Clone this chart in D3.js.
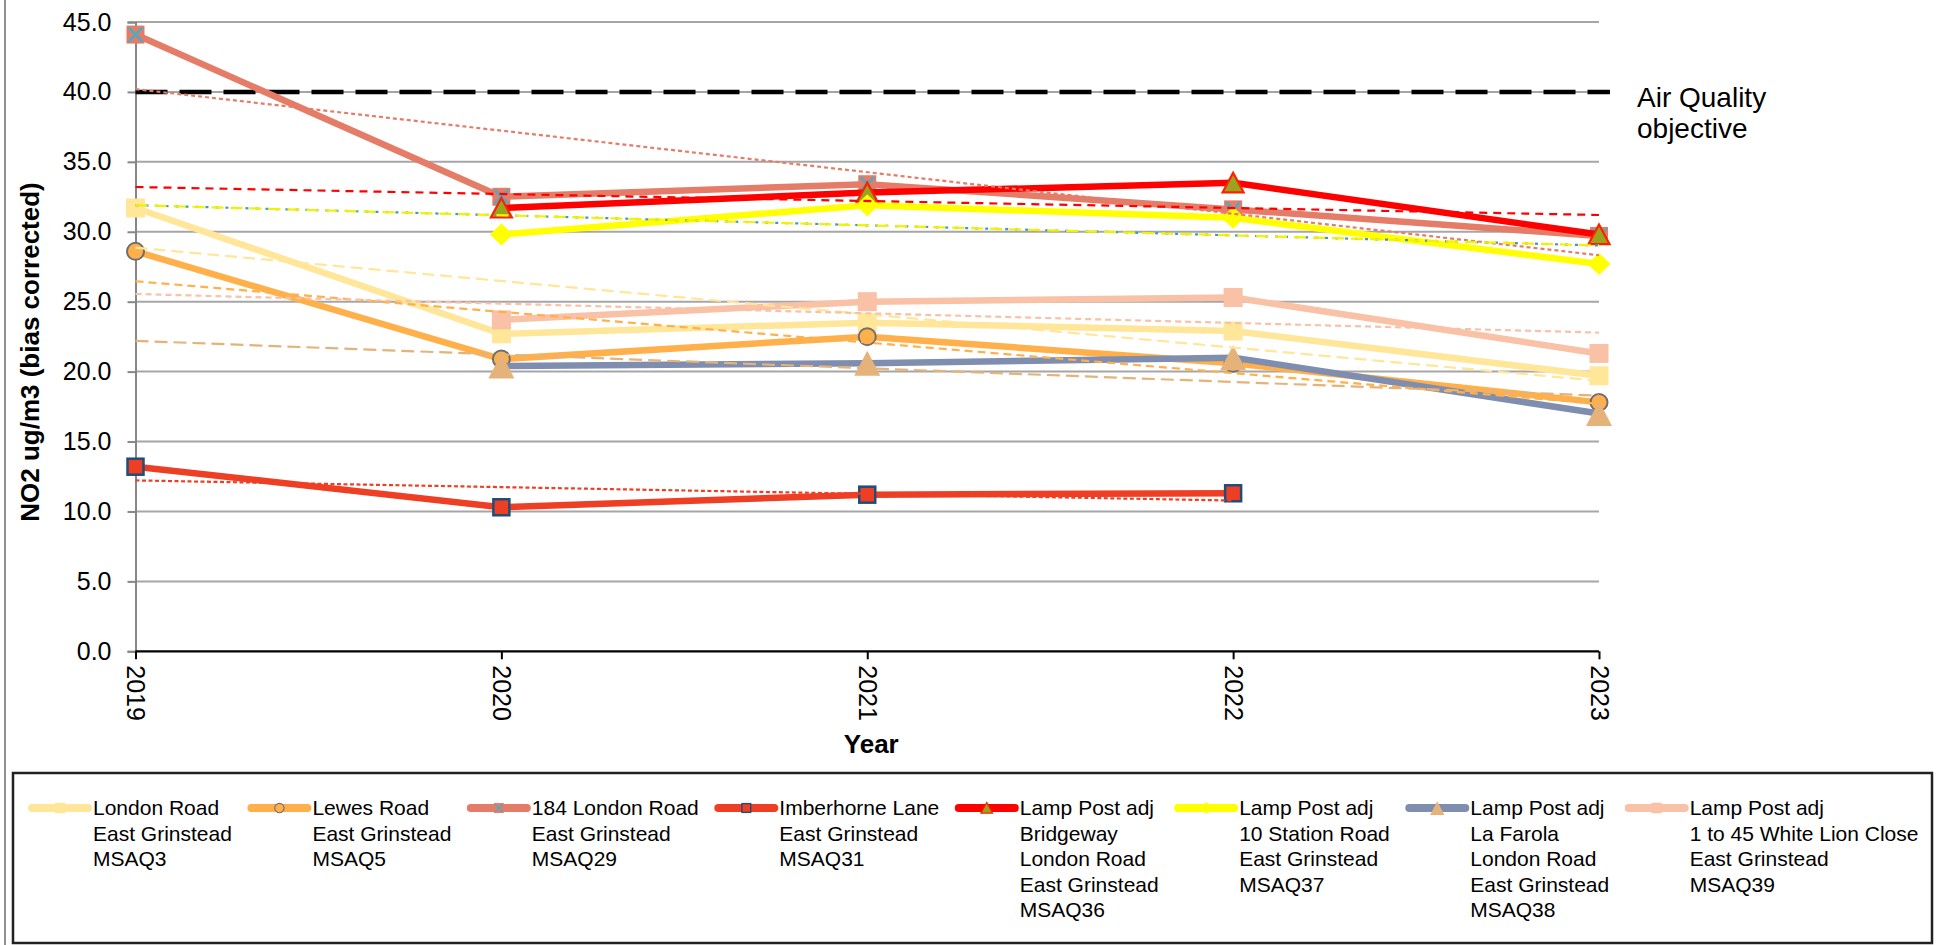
<!DOCTYPE html>
<html>
<head>
<meta charset="utf-8">
<script src="https://cdn.jsdelivr.net/npm/d3@7"></script>
<style>
  html, body { margin: 0; padding: 0; background: #fff; }
  svg { display: block; font-family: "Liberation Sans", Arial, sans-serif; }
</style>
</head>
<body>
<svg id="chart" width="1944" height="945"></svg>
<script>
// ---------------- DATA ----------------
const years = ["2019", "2020", "2021", "2022", "2023"];
const yTicks = [0, 5, 10, 15, 20, 25, 30, 35, 40, 45];
const objectiveValue = 40;
const objectiveLabel = ["Air Quality", "objective"];
const yTitle = "NO2 ug/m3 (bias corrected)";
const xTitle = "Year";

const labelMSAQ3  = ["London Road", "East Grinstead", "MSAQ3"];
const labelMSAQ5  = ["Lewes Road", "East Grinstead", "MSAQ5"];
const labelMSAQ29 = ["184 London Road", "East Grinstead", "MSAQ29"];
const labelMSAQ31 = ["Imberhorne Lane", "East Grinstead", "MSAQ31"];
const labelMSAQ36 = ["Lamp Post adj", "Bridgeway", "London Road", "East Grinstead", "MSAQ36"];
const labelMSAQ37 = ["Lamp Post adj", "10 Station Road", "East Grinstead", "MSAQ37"];
const labelMSAQ38 = ["Lamp Post adj", "La Farola", "London Road", "East Grinstead", "MSAQ38"];
const labelMSAQ39 = ["Lamp Post adj", "1 to 45 White Lion Close", "East Grinstead", "MSAQ39"];

const valuesMSAQ3  = [31.7, 22.7, 23.5, 22.9, 19.7];
const valuesMSAQ5  = [28.6, 20.9, 22.5, 20.6, 17.8];
const valuesMSAQ29 = [44.1, 32.5, 33.4, 31.6, 29.7];
const valuesMSAQ31 = [13.2, 10.3, 11.2, 11.3, null];
const valuesMSAQ36 = [null, 31.7, 32.8, 33.5, 29.8];
const valuesMSAQ37 = [null, 29.8, 31.9, 31.0, 27.7];
const valuesMSAQ38 = [null, 20.4, 20.6, 21.0, 17.0];
const valuesMSAQ39 = [null, 23.7, 25.0, 25.3, 21.3];

// ---------------- STYLES ----------------
const seriesList = [
  { label: labelMSAQ3,  values: valuesMSAQ3,  color: "#FFE699", marker: "square",   fill: "#FFE699", stroke: null, trend: [{color: "#FFE699", dash: "12,6"}] },
  { label: labelMSAQ5,  values: valuesMSAQ5,  color: "#FFB04A", marker: "circle",   fill: "#FFB04A", stroke: "#6F6F6F", trend: [{color: "#FFB04A", dash: "8,5"}] },
  { label: labelMSAQ29, values: valuesMSAQ29, color: "#E47C67", marker: "squareX",  fill: "#E47C67", stroke: "#4BACC6", trend: [{color: "#E47C67", dash: "4,3"}] },
  { label: labelMSAQ31, values: valuesMSAQ31, color: "#EE3E24", marker: "squareB",  fill: "#EE3E24", stroke: "#1F4E79", trend: [{color: "#EE3E24", dash: "4,2.5"}] },
  { label: labelMSAQ36, values: valuesMSAQ36, color: "#FF0000", marker: "triangle", fill: "#9AA31E", stroke: "#FF2000", trend: [{color: "#FF0000", dash: "8,6"}] },
  { label: labelMSAQ37, values: valuesMSAQ37, color: "#FFFF00", marker: "diamond",  fill: "#FFFF00", stroke: null, trend: [{color: "#3A9AC4", dash: "3,7"}, {color: "#F2F200", dash: "12,7"}] },
  { label: labelMSAQ38, values: valuesMSAQ38, color: "#7F8DAF", marker: "triangleBig", fill: "#E5B27A", stroke: null, trend: [{color: "#E5B27A", dash: "13,6"}] },
  { label: labelMSAQ39, values: valuesMSAQ39, color: "#F9C1A5", marker: "square",   fill: "#F9C1A5", stroke: null, trend: [{color: "#F9C1A5", dash: "6,4"}] }
];

// ---------------- LAYOUT ----------------
const svg = d3.select("#chart");
const FONT = "'Liberation Sans', Arial, sans-serif";

const x = d3.scalePoint().domain(years).range([135.5, 1599]);
const y = d3.scaleLinear().domain([0, 45]).range([651.3, 22]);

// outer chart border (left edge visible)
svg.append("line").attr("x1", 5).attr("x2", 5).attr("y1", 0).attr("y2", 945)
  .attr("stroke", "#6b6b6b").attr("stroke-width", 1.5);

// gridlines
svg.append("g").selectAll("line").data(yTicks.filter(d => d > 0)).join("line")
  .attr("x1", x(years[0])).attr("x2", x(years[years.length - 1]))
  .attr("y1", d => y(d)).attr("y2", d => y(d))
  .attr("stroke", "#A6A6A6").attr("stroke-width", 2);

// y axis
const yAxis = d3.axisLeft(y).tickValues(yTicks).tickFormat(d3.format(".1f")).tickSize(8).tickPadding(16);
const gy = svg.append("g").attr("transform", `translate(${x(years[0])},0)`).call(yAxis);
gy.select(".domain").attr("stroke", "#868686").attr("stroke-width", 2);
gy.selectAll(".tick line").attr("stroke", "#868686").attr("stroke-width", 2);
gy.selectAll(".tick text").attr("font-size", 25).attr("font-family", FONT).attr("fill", "#000");

// x axis
const xAxis = d3.axisBottom(x).tickSize(8).tickSizeOuter(0);
const gx = svg.append("g").attr("transform", `translate(0,${y(0)})`).call(xAxis);
gx.select(".domain").attr("stroke", "#000").attr("stroke-width", 2.2)
  .attr("d", `M${x(years[0])},0H${x(years[years.length - 1])}`);
gx.selectAll(".tick line").attr("stroke", "#000").attr("stroke-width", 2);
gx.selectAll(".tick text")
  .attr("font-size", 25).attr("font-family", FONT).attr("fill", "#000")
  .attr("transform", "rotate(90)")
  .attr("x", 14).attr("y", 0).attr("dy", "0.35em")
  .attr("text-anchor", "start");

// axis titles
svg.append("text").attr("transform", "translate(30,352) rotate(-90)")
  .attr("text-anchor", "middle").attr("dy", "0.35em")
  .attr("font-size", 26).attr("font-weight", "bold").attr("font-family", FONT)
  .text(yTitle);
svg.append("text").attr("x", x(years[2]) + 4).attr("y", 753)
  .attr("text-anchor", "middle")
  .attr("font-size", 26).attr("font-weight", "bold").attr("font-family", FONT)
  .text(xTitle);

// Air quality objective line
svg.append("line")
  .attr("x1", x(years[0])).attr("x2", x(years[years.length - 1]) + 11)
  .attr("y1", y(objectiveValue)).attr("y2", y(objectiveValue))
  .attr("stroke", "#000").attr("stroke-width", 4.5).attr("stroke-dasharray", "32,12");
const aq = svg.append("text").attr("x", 1637).attr("y", 107)
  .attr("font-size", 28).attr("font-family", FONT).attr("fill", "#000");
objectiveLabel.forEach((t, i) => aq.append("tspan").attr("x", 1637).attr("dy", i === 0 ? 0 : 31).text(t));

// ---------------- MARKERS ----------------
function drawMarker(g, s, cx, cy, k) {
  const m = g.append("g").attr("transform", `translate(${cx},${cy}) scale(${k})`);
  switch (s.marker) {
    case "square":
      m.append("rect").attr("x", -9.5).attr("y", -9.5).attr("width", 19).attr("height", 19).attr("fill", s.fill);
      break;
    case "circle":
      m.append("circle").attr("r", 8.5).attr("fill", s.fill).attr("stroke", s.stroke).attr("stroke-width", 2);
      break;
    case "squareX":
      m.append("rect").attr("x", -9).attr("y", -9).attr("width", 18).attr("height", 18).attr("fill", s.fill);
      m.append("path").attr("d", "M-7,-7L7,7M7,-7L-7,7").attr("stroke", s.stroke).attr("stroke-width", 2.5).attr("fill", "none");
      break;
    case "squareB":
      m.append("rect").attr("x", -8).attr("y", -8).attr("width", 16).attr("height", 16)
        .attr("fill", s.fill).attr("stroke", s.stroke).attr("stroke-width", 2.5);
      break;
    case "triangle":
      m.append("path").attr("d", "M0,-10L10.5,9.5L-10.5,9.5Z").attr("fill", s.fill)
        .attr("stroke", s.stroke).attr("stroke-width", 2.2).attr("stroke-linejoin", "miter");
      break;
    case "triangleBig":
      m.append("path").attr("d", "M0,-12.5L13,12.5L-13,12.5Z").attr("fill", s.fill);
      break;
    case "diamond":
      m.append("path").attr("d", "M0,-11L11.5,0L0,11L-11.5,0Z").attr("fill", s.fill);
      break;
  }
}

// ---------------- SERIES ----------------
const line = d3.line().defined(d => d.v !== null).x(d => x(d.year)).y(d => y(d.v));
const plot = svg.append("g");

seriesList.forEach(s => {
  const pts = years.map((yr, i) => ({ year: yr, v: s.values[i] }));
  plot.append("path").datum(pts).attr("d", line)
    .attr("fill", "none").attr("stroke", s.color).attr("stroke-width", 6.5)
    .attr("stroke-linejoin", "round").attr("stroke-linecap", "butt");
  pts.filter(p => p.v !== null).forEach(p => drawMarker(plot, s, x(p.year), y(p.v), 1));
});

// ---------------- TRENDLINES (linear least squares, as in Excel) ----------------
function linReg(vals) {
  const pts = vals.map((v, i) => [i, v]).filter(p => p[1] !== null);
  const mx = d3.mean(pts, p => p[0]), my = d3.mean(pts, p => p[1]);
  const sxy = d3.sum(pts, p => (p[0] - mx) * (p[1] - my));
  const sxx = d3.sum(pts, p => (p[0] - mx) ** 2);
  const b = sxy / sxx, a = my - b * mx;
  const last = d3.max(pts, p => p[0]);
  return { a, b, last };
}
const trendG = svg.append("g");
seriesList.forEach(s => {
  const r = linReg(s.values);
  const tpts = [0, r.last].map(i => ({ year: years[i], v: r.a + r.b * i }));
  s.trend.forEach(t => {
    trendG.append("path").datum(tpts).attr("d", line)
      .attr("fill", "none").attr("stroke", t.color).attr("stroke-width", 2.2)
      .attr("stroke-dasharray", t.dash);
  });
});

// ---------------- LEGEND ----------------
svg.append("rect").attr("x", 13).attr("y", 773).attr("width", 1919).attr("height", 170)
  .attr("fill", "none").attr("stroke", "#222").attr("stroke-width", 2.5);

const legend = svg.append("g");
let lx = 32;
const ly = 808, lineH = 25.4;
seriesList.forEach(s => {
  const g = legend.append("g");
  g.append("line").attr("x1", lx).attr("x2", lx + 56).attr("y1", ly).attr("y2", ly)
    .attr("stroke", s.color).attr("stroke-width", 8).attr("stroke-linecap", "round");
  drawMarker(g, s, lx + 28, ly, 0.55);
  const txt = g.append("text").attr("font-size", 21).attr("font-family", FONT).attr("fill", "#000");
  s.label.forEach((t, i) => txt.append("tspan").attr("x", lx + 61).attr("y", ly + i * lineH).attr("dy", "0.35em").text(t));
  const w = txt.node().getBBox().width;
  lx = lx + 61 + w + 19.5;
});
</script>
</body>
</html>
